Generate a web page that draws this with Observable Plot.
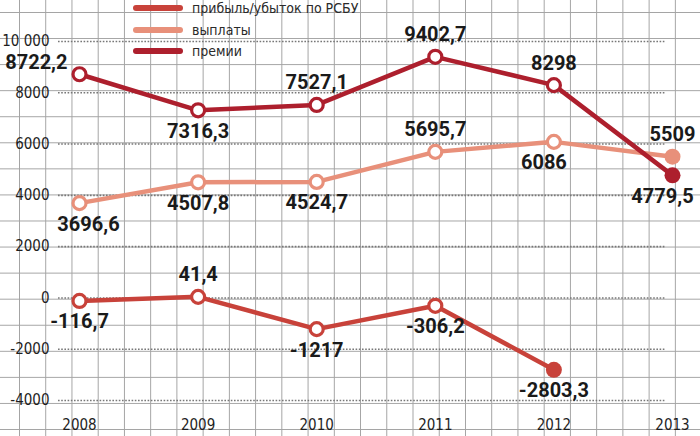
<!DOCTYPE html>
<html>
<head>
<meta charset="utf-8">
<script src="https://cdn.jsdelivr.net/npm/d3@7"></script>
<script src="https://cdn.jsdelivr.net/npm/@observablehq/plot@0.6"></script>
<style>
  html, body { margin: 0; padding: 0; background: #fff; }
  #wrap {
    position: relative; width: 700px; height: 436px; overflow: hidden;
    background-color: #fff;
    background-image:
      linear-gradient(to right, #a3a3a3 1px, transparent 1px),
      linear-gradient(to bottom, #a3a3a3 1px, transparent 1px);
    background-size: 26.24px 26.07px;
    background-position: 19px 12px;
  }
  #chart { position: absolute; left: 0; top: 0; }
  #legend {
    position: absolute; left: 133px; top: 0; z-index: 2;
    font-family: "Liberation Sans Narrow", "DejaVu Sans Condensed", "Roboto", sans-serif;
    font-size: 14px; color: #2a2a2a;
  }
  .row { position: absolute; left: 0; height: 16px; display: flex; align-items: center; white-space: nowrap; }
  .sw { width: 50px; height: 6px; border-radius: 3px; margin-right: 9px; }
</style>
</head>
<body>
<div id="wrap">
  <div id="legend"></div>
  <div id="chart"></div>
</div>
<script>
// ---- data ----
const years = [2008, 2009, 2010, 2011, 2012, 2013];
const seriesNames = ["прибыль/убыток по РСБУ", "выплаты", "премии"];
const seriesColors = ["#c8423a", "#e8907a", "#ad1f2d"];
const profit = [-116.7, 41.4, -1217, -306.2, -2803.3];
const payments = [3696.6, 4507.8, 4524.7, 5695.7, 6086, 5509];
const premiums = [8722.2, 7316.3, 7527.1, 9402.7, 8298, 4779.5];
const profitLabels = ["-116,7", "41,4", "-1217", "-306,2", "-2803,3"];
const paymentsLabels = ["3696,6", "4507,8", "4524,7", "5695,7", "6086", "5509"];
const premiumsLabels = ["8722,2", "7316,3", "7527,1", "9402,7", "8298", "4779,5"];
// label side per point: a = above, b = below, l = left, bl/br = below shifted
const profitSide = ["b", "a", "b", "b", "b"];
const paymentsSide = ["br", "b", "b", "a", "bl", "a"];
const premiumsSide = ["l", "b", "a", "a", "a", "bl"];
const yTicks = [-4000, -2000, 0, 2000, 4000, 6000, 8000, 10000];
const yTickLabels = ["-4000", "-2000", "0", "2000", "4000", "6000", "8000", "10 000"];

// ---- build ----
function build(values, labels, sides, idx) {
  return values.map((v, i) => ({
    year: years[i], value: v, label: labels[i], side: sides[i],
    last: i === values.length - 1, series: seriesNames[idx], color: seriesColors[idx]
  }));
}
const all = [
  build(profit, profitLabels, profitSide, 0),
  build(payments, paymentsLabels, paymentsSide, 1),
  build(premiums, premiumsLabels, premiumsSide, 2)
];

// legend
const legend = document.getElementById("legend");
seriesNames.forEach((n, i) => {
  const row = document.createElement("div");
  row.className = "row";
  row.style.top = (i * 21.5) + "px";
  row.innerHTML = `<span class="sw" style="background:${seriesColors[i]}"></span><span>${n}</span>`;
  legend.appendChild(row);
});

const axisFont = "'Liberation Sans Narrow', 'DejaVu Sans Condensed', Roboto, sans-serif";
const dyOf = s => s === "a" ? -22 : (s === "l" ? -12 : 21);
const dxOf = s => s === "l" ? -12 : (s === "bl" ? -10 : (s === "br" ? 9 : 0));

const marks = [
  Plot.gridY(yTicks, {stroke: "#777", strokeOpacity: 1, strokeWidth: 1.6, strokeDasharray: "1.6,1.6"}),
  Plot.axisY(yTicks, {tickSize: 0, tickPadding: 9, fontSize: 15, fontFamily: axisFont, label: null,
    tickFormat: d => yTickLabels[yTicks.indexOf(d)], fill: "#1e1e1e"}),
  Plot.axisX(years, {tickSize: 0, tickPadding: 19, fontSize: 15, fontFamily: axisFont, label: null,
    tickFormat: d => String(d), fill: "#1e1e1e"})
];
all.forEach((data, k) => {
  const c = seriesColors[k];
  marks.push(Plot.line(data, {x: "year", y: "value", stroke: c, strokeWidth: 4.5}));
  marks.push(Plot.dot(data.filter(d => !d.last), {x: "year", y: "value", r: 6.5, fill: "white", stroke: c, strokeWidth: 3.2}));
  marks.push(Plot.dot(data.filter(d => d.last), {x: "year", y: "value", r: 8, fill: c, stroke: c, strokeWidth: 0}));
});
all.forEach(data => {
  ["a", "b", "l", "bl", "br"].forEach(s => {
    const sub = data.filter(d => d.side === s);
    if (!sub.length) return;
    marks.push(Plot.text(sub, {x: "year", y: "value", text: "label",
      dy: dyOf(s), dx: dxOf(s), textAnchor: s === "l" ? "end" : "middle",
      fontSize: 20, fontWeight: "bold", fill: "#1a1a1a", fontFamily: "Roboto, 'DejaVu Sans', sans-serif"}));
  });
});

const chart = Plot.plot({
  width: 700, height: 436,
  marginLeft: 58, marginRight: 35, marginTop: 41, marginBottom: 36,
  x: {domain: [2008, 2013], range: [79, 672], label: null},
  y: {domain: [-4000, 10000], range: [400, 41], label: null},
  style: {background: "transparent", overflow: "visible"},
  marks
});
document.getElementById("chart").appendChild(chart);
</script>
</body>
</html>
